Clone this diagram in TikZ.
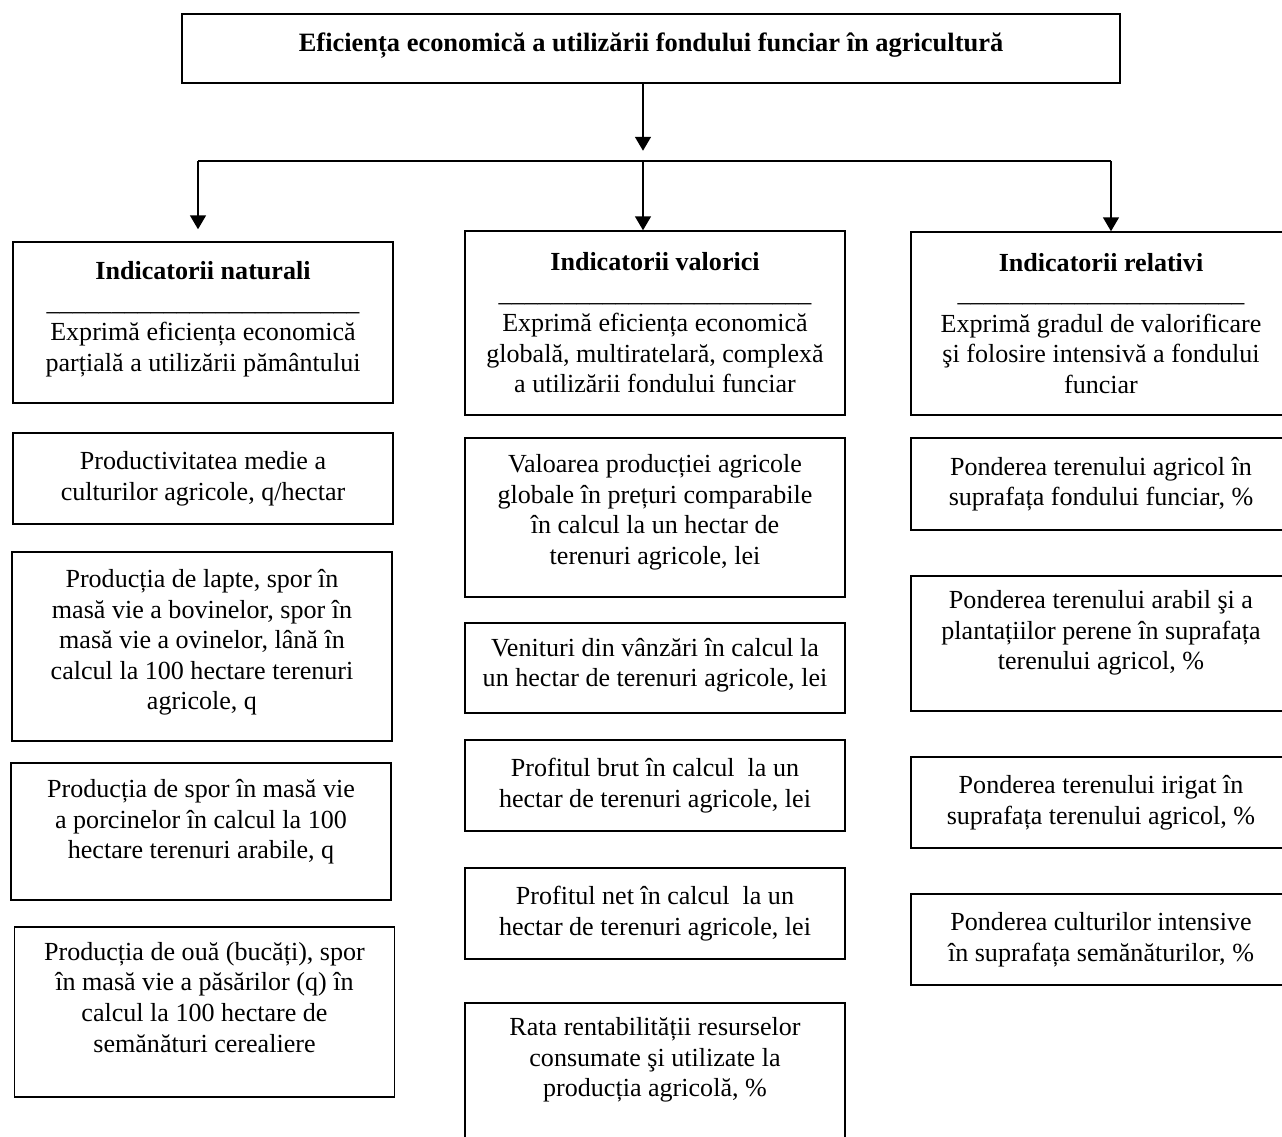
\documentclass[tikz,border=0pt]{standalone}
\usepackage{fontspec}
\setmainfont{Liberation Serif}
\usepackage{tikz}
\usetikzlibrary{arrows.meta, positioning, calc}

\newdimen\pxu
\pxu=0.537pt
% text set a bit above the middle of its box
\newcommand{\liftbox}[2]{\raisebox{#1}[\height][\depth]{\begin{tabular}{@{}c@{}}#2\end{tabular}}}

\begin{document}
\begin{tikzpicture}[
    x=0.537pt, y=-0.537pt,
    box/.style={rectangle, draw=black, line width=0.8pt, align=center, inner sep=0pt,
        minimum width=380\pxu, font=\fontsize{14}{16.4}\selectfont},
    titlebox/.style={box, minimum width=938\pxu, minimum height=69\pxu, font=\fontsize{14.2}{16.4}\selectfont\bfseries},
    line/.style={draw=black, line width=0.8pt},
    arrow/.style={line, -{Triangle[length=7.5pt, width=8.6pt]}}
]
    \useasboundingbox (0,0) rectangle (1282,1137);

    % Title
    \node[titlebox] (title) at (651, 48.5) {\liftbox{1.5pt}{Eficiența economică a utilizării fondului funciar în agricultură}};

    % Group headers
    \node[box, minimum height=161\pxu] (natural) at (203, 322.5) {\liftbox{1.6pt}{\textbf{Indicatorii naturali}\\
        \_\_\_\_\_\_\_\_\_\_\_\_\_\_\_\_\_\_\_\_\_\_\_\_\\
        Exprimă eficiența economică\\ parțială a utilizării pământului}};
    \node[box, minimum height=184\pxu] (valoric) at (655, 323) {\textbf{Indicatorii valorici}\\
        \_\_\_\_\_\_\_\_\_\_\_\_\_\_\_\_\_\_\_\_\_\_\_\_\\
        Exprimă eficiența economică\\ globală, multiratelară, complexă\\ a utilizării fondului funciar};
    \node[box, minimum height=183\pxu] (relativ) at (1101, 323.5) {\textbf{Indicatorii relativi}\\
        \_\_\_\_\_\_\_\_\_\_\_\_\_\_\_\_\_\_\_\_\_\_\\
        Exprimă gradul de valorificare\\ şi folosire intensivă a fondului\\ funciar};

    % Natural indicators
    \node[box, minimum height=91\pxu] (nat1) at (203, 478.5) {Productivitatea medie a\\ culturilor agricole, q/hectar};
    \node[box, minimum height=189\pxu] (nat2) at (202, 646.5) {\liftbox{2pt}{Producția de lapte, spor în\\ masă vie a bovinelor, spor în\\ masă vie a ovinelor, lână în\\ calcul la 100 hectare terenuri\\ agricole, q}};
    \node[box, minimum height=137\pxu] (nat3) at (201, 831.5) {\liftbox{5pt}{Producția de spor în masă vie\\ a porcinelor în calcul la 100\\ hectare terenuri arabile, q}};
    \node[box, minimum height=170\pxu] (nat4) at (204.5, 1012) {\liftbox{6.4pt}{Producția de ouă (bucăți), spor\\ în masă vie a păsărilor (q) în\\ calcul la 100 hectare de\\ semănături cerealiere}};

    % Value indicators
    \node[box, minimum height=159\pxu] (val1) at (655, 517.5) {\liftbox{2.7pt}{Valoarea producției agricole\\ globale în prețuri comparabile\\ în calcul la un hectar de\\ terenuri agricole, lei}};
    \node[box, minimum height=90\pxu] (val2) at (655, 668) {\liftbox{1.5pt}{Venituri din vânzări în calcul la\\ un hectar de terenuri agricole, lei}};
    \node[box, minimum height=91\pxu] (val3) at (655, 785.5) {Profitul brut în calcul\ \ la un\\ hectar de terenuri agricole, lei};
    \node[box, minimum height=91\pxu] (val4) at (655, 913.5) {Profitul net în calcul\ \ la un\\ hectar de terenuri agricole, lei};
    \node[box, minimum height=147\pxu] (val5) at (655, 1076.5) {\liftbox{8.9pt}{Rata rentabilității resurselor\\ consumate şi utilizate la\\ producția agricolă, \%}};

    % Relative indicators
    \node[box, minimum height=92\pxu] (rel1) at (1101, 484) {Ponderea terenului agricol în\\ suprafața fondului funciar, \%};
    \node[box, minimum height=135\pxu] (rel2) at (1101, 643.5) {\liftbox{5.6pt}{Ponderea terenului arabil şi a\\ plantațiilor perene în suprafața\\ terenului agricol, \%}};
    \node[box, minimum height=91\pxu] (rel3) at (1101, 802.5) {Ponderea terenului irigat în\\ suprafața terenului agricol, \%};
    \node[box, minimum height=91\pxu] (rel4) at (1101, 939.5) {Ponderea culturilor intensive\\ în suprafața semănăturilor, \%};

    % Connectors
    \coordinate (split) at (643, 161);
    \coordinate (busL) at (198, 161);
    \coordinate (busR) at (1111, 161);

    \draw[arrow] (title.south -| split) -- ++(0, 67);
    \draw[line] (busL) -- (busR);
    \draw[arrow] (busL) -- ($(natural.north -| busL) + (0, -12)$);
    \draw[arrow] (split) -- (valoric.north -| split);
    \draw[arrow] (busR) -- (relativ.north -| busR);

\end{tikzpicture}
\end{document}
